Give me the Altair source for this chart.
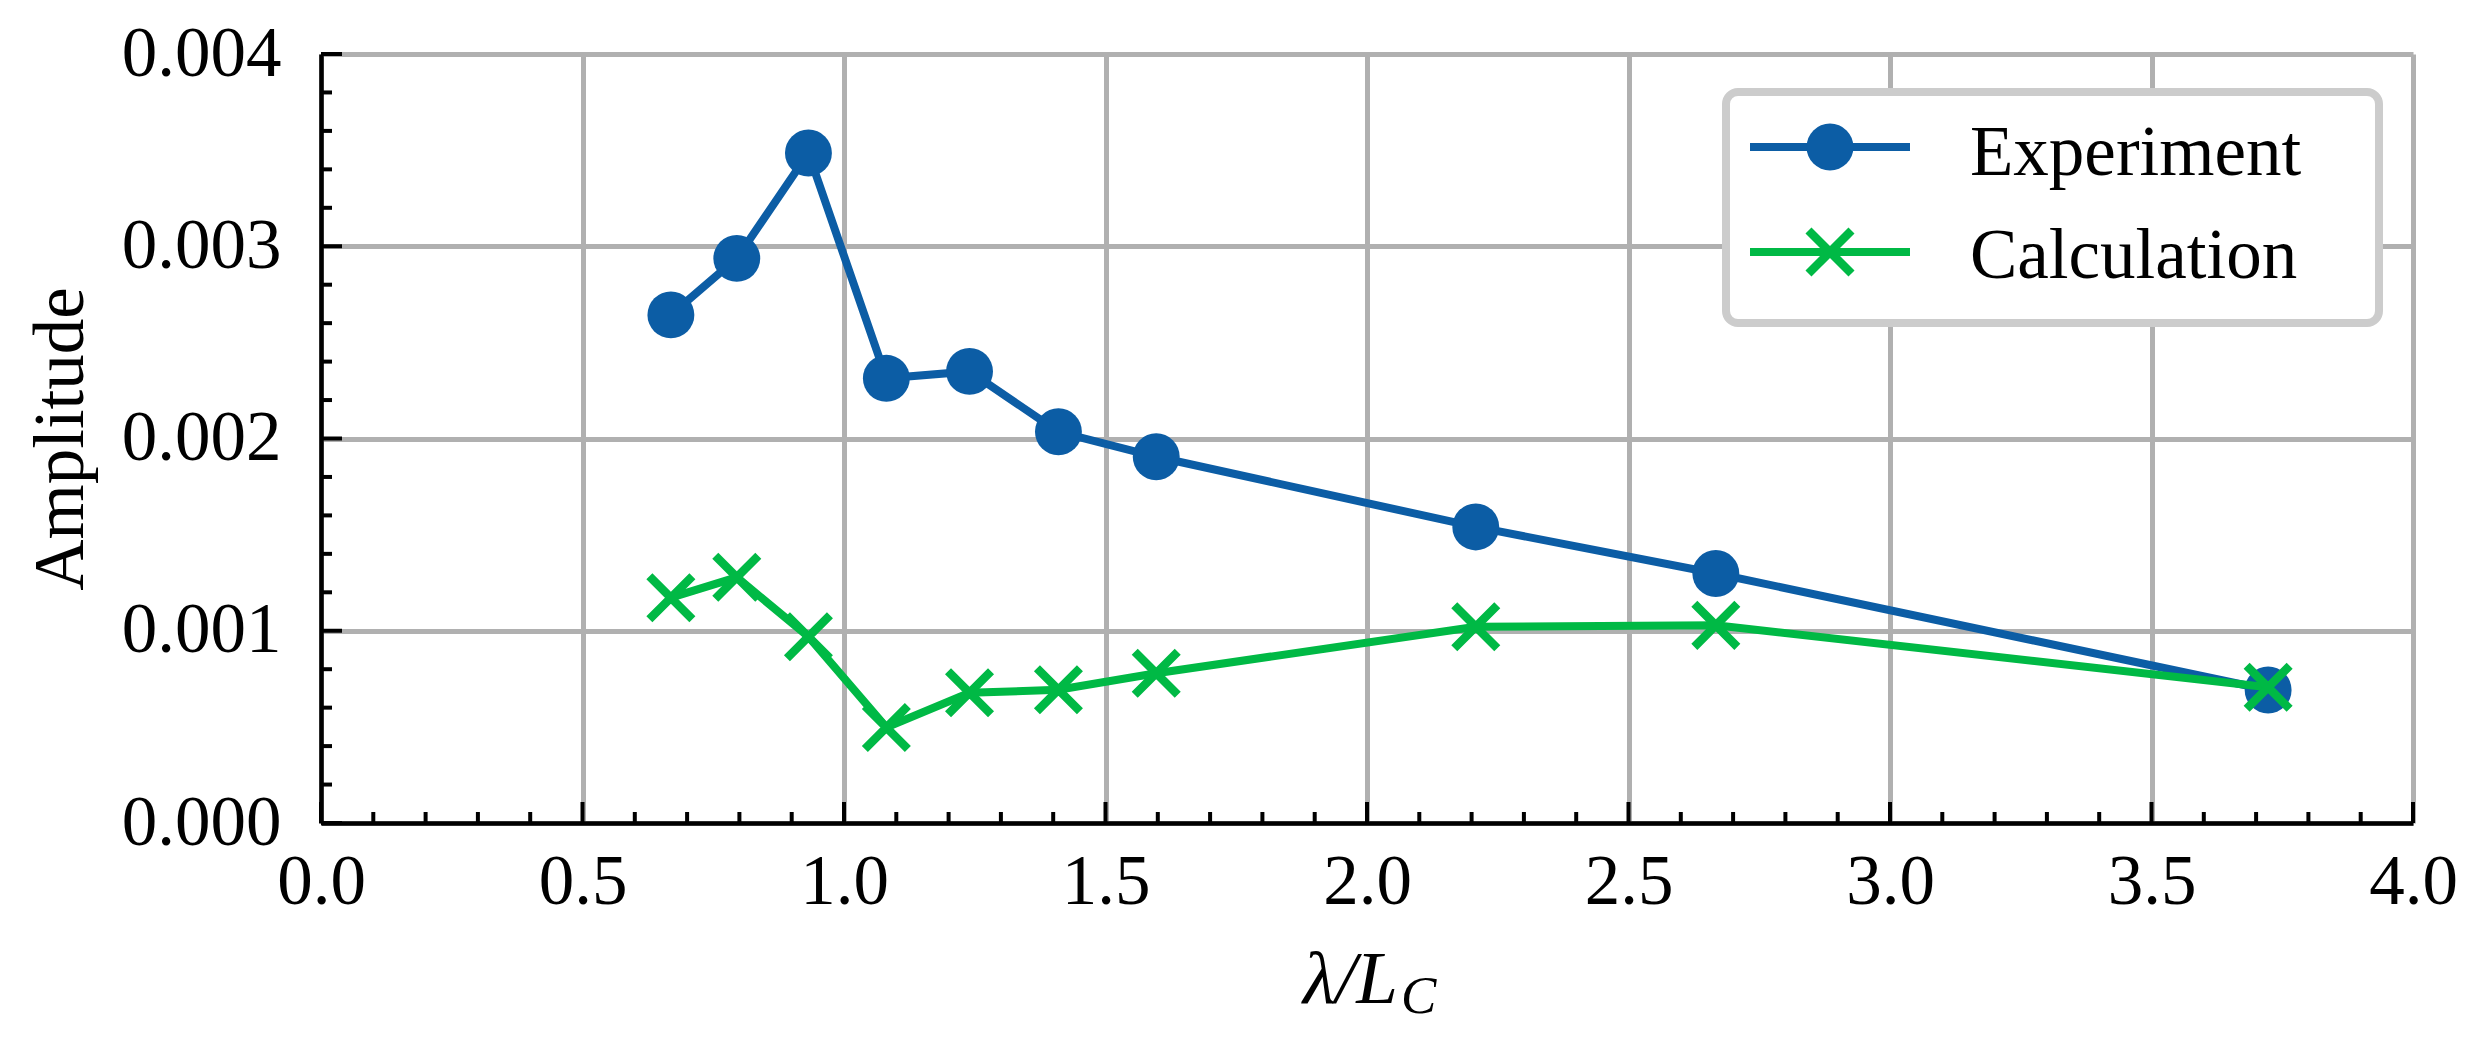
import altair as alt
import pandas as pd

# ---- data ----
lam = [0.669, 0.795, 0.932, 1.081, 1.240, 1.410, 1.597, 2.208, 2.667, 3.723]
amp_experiment = [0.002643, 0.002937, 0.003485, 0.002313, 0.002349,
                  0.002035, 0.001905, 0.001540, 0.001298, 0.000692]
amp_calculation = [0.001172, 0.001278, 0.000969, 0.000497, 0.000677,
                   0.000693, 0.000779, 0.001021, 0.001028, 0.000706]
series_names = ["Experiment", "Calculation"]
series_colors = ["#0C5DA5", "#00B945"]

x_major = [0.0, 0.5, 1.0, 1.5, 2.0, 2.5, 3.0, 3.5, 4.0]
x_minor = [round(i / 10, 1) for i in range(41) if i % 5 != 0]
y_major = [0.0, 0.001, 0.002, 0.003, 0.004]
y_minor = [round(i * 0.0002, 4) for i in range(21) if i % 5 != 0]

# ---- style ----
W, H = 2092, 769
FONT = "Liberation Serif"
FS = 71
GRID = "#b0b0b0"
LW = 8
XW = 8.5
X_PATH = "M-1,-1L1,1M-1,1L1,-1"

df_exp = pd.DataFrame({"lam": lam, "amp": amp_experiment})
df_calc = pd.DataFrame({"lam": lam, "amp": amp_calculation})

xscale = alt.Scale(domain=[0, 4], nice=False, zero=False)
yscale = alt.Scale(domain=[0, 0.004], nice=False, zero=False)

x_axis = alt.Axis(values=x_major, format=".1f", title=None)
y_axis = alt.Axis(values=y_major, format=".3f", title="Amplitude")


def X(field):
    return alt.X(field, type="quantitative", scale=xscale, axis=x_axis)


def Y(field):
    return alt.Y(field, type="quantitative", scale=yscale, axis=y_axis)


exp_line = alt.Chart(df_exp).mark_line(color=series_colors[0], strokeWidth=LW).encode(
    x=X("lam"), y=Y("amp"))
exp_pts = alt.Chart(df_exp).mark_point(
    shape="circle", filled=True, size=2200, color=series_colors[0], opacity=1
).encode(x=X("lam"), y=Y("amp"))
calc_line = alt.Chart(df_calc).mark_line(color=series_colors[1], strokeWidth=LW).encode(
    x=X("lam"), y=Y("amp"))
calc_pts = alt.Chart(df_calc).mark_point(
    shape=X_PATH, filled=False, size=1850, color=series_colors[1], strokeWidth=XW,
    opacity=1
).encode(x=X("lam"), y=Y("amp"))


# ---- inward ticks ----
def xticks(vals, length):
    return alt.Chart(pd.DataFrame({"lam": vals})).mark_rule(
        color="black", strokeWidth=4).encode(
        x=X("lam"), y=alt.value(H), y2=alt.value(H - length))


def yticks(vals, length):
    return alt.Chart(pd.DataFrame({"amp": vals})).mark_rule(
        color="black", strokeWidth=4).encode(
        y=Y("amp"), x=alt.value(0), x2=alt.value(length))


ticks = [xticks(x_major, 21), xticks(x_minor, 11), yticks(y_major, 21), yticks(y_minor, 11)]

# ---- x title: lambda / L_C ----
one = pd.DataFrame({"k": [0]})
xt_main = alt.Chart(one).mark_text(
    text="λ/L", font=FONT, fontSize=75, fontStyle="italic", align="right",
    baseline="alphabetic", color="black").encode(x=alt.value(1077), y=alt.value(949))
xt_sub = alt.Chart(one).mark_text(
    text="C", font=FONT, fontSize=53, fontStyle="italic", align="left",
    baseline="alphabetic", color="black").encode(x=alt.value(1080), y=alt.value(959))

# ---- legend ----
leg_box = alt.Chart(one).mark_rect(
    fill="white", stroke="#cccccc", strokeWidth=8, cornerRadius=12).encode(
    x=alt.value(1405), x2=alt.value(2058), y=alt.value(38), y2=alt.value(269))

leg_layers = []
leg_rows = [93, 198]
leg_base = [121, 224]
for i, name in enumerate(series_names):
    d = pd.DataFrame({"label": [name]})
    leg_layers.append(alt.Chart(d).mark_rule(color=series_colors[i], strokeWidth=LW).encode(
        x=alt.value(1429), x2=alt.value(1589), y=alt.value(leg_rows[i])))
    if i == 0:
        leg_layers.append(alt.Chart(d).mark_point(
            shape="circle", filled=True, size=2200, color=series_colors[i], opacity=1
        ).encode(x=alt.value(1509), y=alt.value(leg_rows[i])))
    else:
        leg_layers.append(alt.Chart(d).mark_point(
            shape=X_PATH, filled=False, size=1850, color=series_colors[i],
            strokeWidth=XW, opacity=1
        ).encode(x=alt.value(1509), y=alt.value(leg_rows[i])))
    leg_layers.append(alt.Chart(d).mark_text(
        font=FONT, fontSize=FS, align="left", baseline="alphabetic", color="black"
    ).encode(text="label:N", x=alt.value(1649), y=alt.value(leg_base[i])))

chart = alt.layer(
    exp_line, exp_pts, calc_line, calc_pts, *ticks, xt_main, xt_sub, leg_box, *leg_layers
).properties(
    width=W, height=H,
    autosize=alt.AutoSizeParams(type="none"),
    padding={"left": 313, "top": 46, "right": 50, "bottom": 215},
    background="white",
).configure_view(
    stroke=None
).configure_axis(
    grid=True, gridColor=GRID, gridWidth=5, gridOpacity=1,
    domainColor="black", domainWidth=4.5, ticks=False,
    labelFont=FONT, labelFontSize=FS, labelColor="black",
    labelFlush=False, labelOverlap=False,
    titleFont=FONT, titleFontSize=FS, titleFontWeight="normal", titleColor="black",
).configure_axisX(
    labelPadding=24,
).configure_axisY(
    labelPadding=40, titleAngle=270, titleX=-239, titleY=H / 2,
    titleAlign="center", titleBaseline="alphabetic",
)

chart.save("out.html", embed_options={"renderer": "svg", "actions": False})
